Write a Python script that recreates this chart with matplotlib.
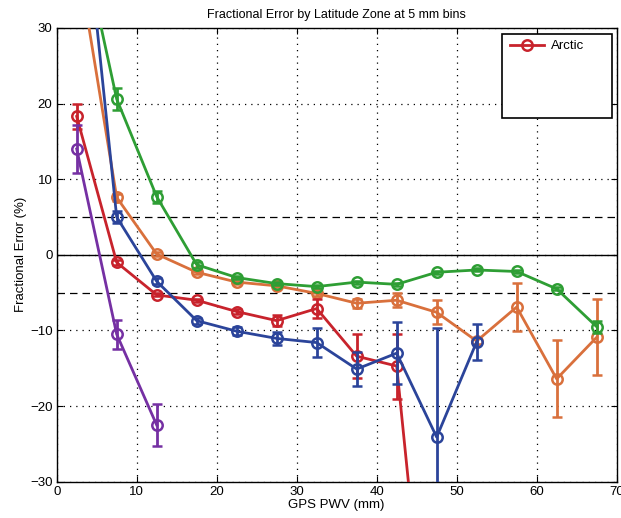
import matplotlib
matplotlib.use("Agg")
import matplotlib.pyplot as plt
from matplotlib.patches import Rectangle
import numpy as np

plt.rcParams['font.family'] = ['Liberation Sans', 'DejaVu Sans']

# bin centres (mm)
pwv = [2.5, 7.5, 12.5, 17.5, 22.5, 27.5, 32.5, 37.5, 42.5, 47.5, 52.5, 57.5, 62.5, 67.5]

# fractional error (%) and error bar half-widths per latitude zone
arctic = [18.3, -1.0, -5.3, -6.0, -7.5, -8.7, -7.1, -13.4, -14.7, -67.0]
arctic_err = [1.6, 0.3, 0.2, 0.2, 0.3, 0.7, 1.3, 2.9, 4.3, 6.0]

orange = [40.0, 7.6, 0.1, -2.3, -3.6, -4.1, -5.1, -6.4, -6.0, -7.6, -11.4, -6.9, -16.4, -10.9]
orange_err = [1.0, 0.5, 0.3, 0.2, 0.2, 0.2, 0.4, 0.6, 0.9, 1.6, 0.4, 3.2, 5.1, 5.0]

green = [45.0, 20.6, 7.7, -1.3, -3.0, -3.8, -4.2, -3.6, -3.9, -2.3, -2.0, -2.2, -4.5, -9.5]
green_err = [1.0, 1.5, 0.8, 0.4, 0.2, 0.2, 0.2, 0.2, 0.2, 0.2, 0.2, 0.2, 0.2, 0.8]

blue = [56.0, 5.0, -3.5, -8.7, -10.1, -11.05, -11.6, -15.1, -13.0, -24.1, -11.5]
blue_err = [1.0, 0.8, 0.4, 0.4, 0.5, 0.9, 1.9, 2.3, 4.1, 14.4, 2.4]

purple = [14.0, -10.5, -22.5]
purple_err = [3.2, 1.9, 2.8]

c_red = '#c8232c'
c_orange = '#d9703c'
c_green = '#2e9e34'
c_blue = '#2b449a'
c_purple = '#7530a3'

fig = plt.figure(figsize=(6.21, 5.18), dpi=100)
ax = fig.add_axes([0.0913, 0.070, 0.9017, 0.876])

style = dict(marker='o', markersize=7.5, markerfacecolor='none', markeredgewidth=1.8,
             linewidth=2, elinewidth=2, capsize=3.5, capthick=2)

h_arctic = ax.errorbar(pwv[:len(arctic)], arctic, yerr=arctic_err, color=c_red, zorder=5, **style)
ax.errorbar(pwv[:len(orange)], orange, yerr=orange_err, color=c_orange, zorder=3, **style)
ax.errorbar(pwv[:len(green)], green, yerr=green_err, color=c_green, zorder=4, **style)
ax.errorbar(pwv[:len(blue)], blue, yerr=blue_err, color=c_blue, zorder=6, **style)
ax.errorbar(pwv[:len(purple)], purple, yerr=purple_err, color=c_purple, zorder=7, **style)

# reference lines
ax.axhline(0, color='black', linewidth=1, zorder=2)
ax.axhline(5, color='black', linewidth=0.9, linestyle=(0, (6, 4)), zorder=2)
ax.axhline(-5, color='black', linewidth=0.9, linestyle=(0, (6, 4)), zorder=2)

ax.set_xlim(0, 70)
ax.set_ylim(-30, 30)
ax.set_xticks(np.arange(0, 71, 10))
ax.set_yticks(np.arange(-30, 31, 10))
ax.grid(True, color='black', linestyle=(0, (1, 4)), linewidth=0.9)
ax.tick_params(direction='in', top=True, right=True, length=4, labelsize=9.5, pad=3)
for s in ax.spines.values():
    s.set_linewidth(1)

ax.set_title('Fractional Error by Latitude Zone at 5 mm bins', fontsize=9, pad=7)
ax.set_xlabel('GPS PWV (mm)', fontsize=9.5, labelpad=1)
ax.set_ylabel('Fractional Error (%)', fontsize=9.5, labelpad=2)

# legend box (oversized, as in the original)
ax.add_patch(Rectangle((0.7946, 0.802), 0.1975, 0.184, transform=ax.transAxes,
                       facecolor='white', edgecolor='black', linewidth=1.2, zorder=20,
                       clip_on=False))
ax.legend([h_arctic.lines[0]], ['Arctic'], loc='upper left', bbox_to_anchor=(0.80, 0.985),
          frameon=False, fontsize=9.5, handlelength=2.6, handletextpad=0.5,
          borderaxespad=0).set_zorder(21)

fig.savefig('out.png', dpi=100)
